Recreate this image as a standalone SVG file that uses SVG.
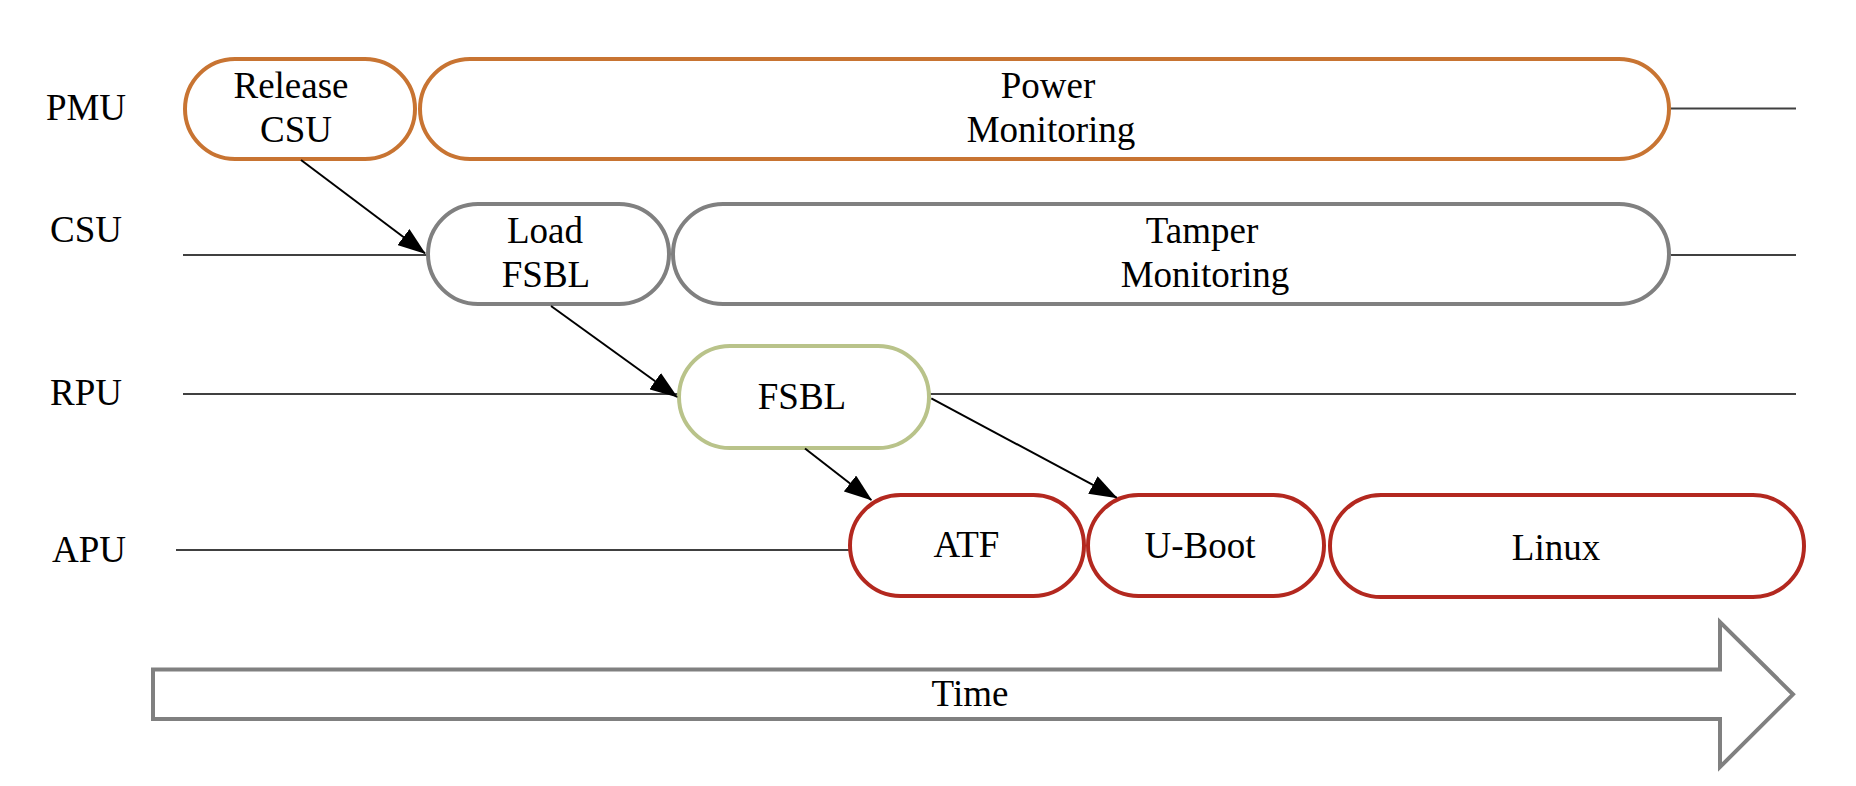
<svg xmlns="http://www.w3.org/2000/svg" width="1856" height="786" viewBox="0 0 1856 786">
<defs>
<style>
text{font-family:"Liberation Serif","Times New Roman",serif;font-size:37px;fill:#000;text-anchor:middle}
.lane{stroke:#404040;stroke-width:2;fill:none}
.pill{fill:#fff;stroke-width:4}
.pmu{stroke:#C87432}
.csu{stroke:#808080}
.rpu{stroke:#B9C38A}
.apu{stroke:#B3281F}
.edge{stroke:#000;stroke-width:2;fill:none;marker-end:url(#ah)}
</style>
<marker id="ah" markerUnits="userSpaceOnUse" markerWidth="28" markerHeight="20" viewBox="0 0 28 20" refX="27" refY="10" orient="auto">
<path d="M0,0 L28,10 L0,20 z" fill="#000"/>
</marker>
</defs>
<rect width="1856" height="786" fill="#fff"/>
<g id="labels">
<text x="86" y="120">PMU</text>
<text x="86" y="242">CSU</text>
<text x="86" y="405">RPU</text>
<text x="89" y="562">APU</text>
</g>
<g id="lanes">
<line class="lane" x1="1671" y1="108.5" x2="1796" y2="108.5"/>
<line class="lane" x1="183" y1="255" x2="427" y2="255"/>
<line class="lane" x1="1671" y1="255" x2="1796" y2="255"/>
<line class="lane" x1="183" y1="394" x2="678" y2="394"/>
<line class="lane" x1="930" y1="394" x2="1796" y2="394"/>
<line class="lane" x1="176" y1="550" x2="849" y2="550"/>
</g>
<g id="release-csu">
<rect class="pill pmu" x="185" y="59" width="230" height="100" rx="50"/>
<text x="291" y="98">Release</text>
<text x="296" y="142">CSU</text>
</g>
<g id="power-monitoring">
<rect class="pill pmu" x="420" y="59" width="1249" height="100" rx="50"/>
<text x="1048" y="98">Power</text>
<text x="1051" y="142">Monitoring</text>
</g>
<g id="load-fsbl">
<rect class="pill csu" x="428" y="204" width="241" height="100" rx="50"/>
<text x="545" y="243">Load</text>
<text x="546" y="287">FSBL</text>
</g>
<g id="tamper-monitoring">
<rect class="pill csu" x="673" y="204" width="996" height="100" rx="50"/>
<text x="1202" y="243">Tamper</text>
<text x="1205" y="287">Monitoring</text>
</g>
<g id="fsbl">
<rect class="pill rpu" x="679" y="346" width="250" height="102" rx="51"/>
<text x="802" y="409">FSBL</text>
</g>
<g id="atf">
<rect class="pill apu" x="850" y="495" width="234" height="101" rx="50.5"/>
<text x="966.5" y="557">ATF</text>
</g>
<g id="u-boot">
<rect class="pill apu" x="1088" y="495" width="236" height="101" rx="50.5"/>
<text x="1200" y="558">U-Boot</text>
</g>
<g id="linux">
<rect class="pill apu" x="1330" y="495" width="474" height="102" rx="51"/>
<text x="1556" y="560">Linux</text>
</g>
<g id="connectors">
<line class="edge" x1="301" y1="160" x2="425" y2="253.3"/>
<line class="edge" x1="551" y1="306" x2="677" y2="397"/>
<line class="edge" x1="805" y1="448.5" x2="871.3" y2="500"/>
<line class="edge" x1="931.3" y1="398.3" x2="1116.7" y2="497.7"/>
</g>
<g id="time">
<polygon points="153,669.5 1720,669.5 1720,622 1793,694.3 1720,767 1720,719 153,719" fill="#fff" stroke="#808080" stroke-width="4" stroke-linejoin="miter"/>
<text x="970" y="706">Time</text>
</g>
</svg>
